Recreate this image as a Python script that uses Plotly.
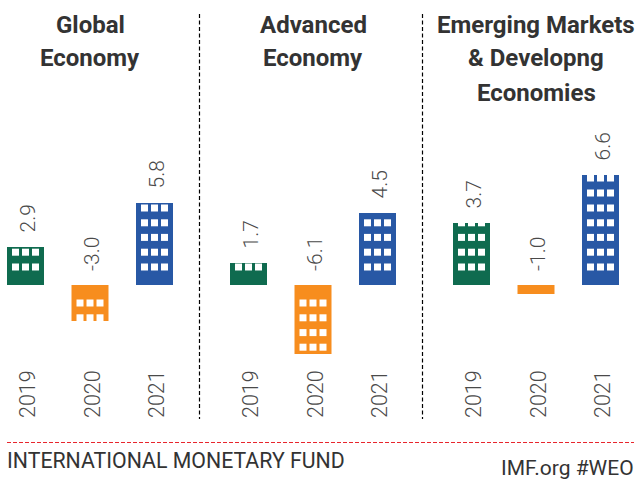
import plotly.graph_objects as go

W, H = 637, 479
years = ["2019", "2020", "2021"]
panel_titles = [
    ["Global", "Economy"],
    ["Advanced", "Economy"],
    ["Emerging Markets", "& Developng", "Economies"],
]
# printed values
global_labels = ["2.9", "-3.0", "5.8"]
advanced_labels = ["1.7", "-6.1", "4.5"]
emerging_labels = ["3.7", "-1.0", "6.6"]
# lengths of the bars as drawn in the picture (not proportional to the printed values)
global_drawn = [38, -36, 82]
advanced_drawn = [22, -69, 72]
emerging_drawn = [62, -9, 110]
bar_colors = ["#0F6B4F", "#F78D1E", "#2858A5"]
footer_left = "INTERNATIONAL MONETARY FUND"
footer_right = "IMF.org #WEO"

labels = [global_labels, advanced_labels, emerging_labels]
drawn = [global_drawn, advanced_drawn, emerging_drawn]

FONT = "Roboto"
INK = "#4a4a4a"
STEP = 64.5
first_center = [25.5, 248.5, 471.5]
panel_px = [(0, 195), (205, 420), (425, 637)]
row_offsets = [18, 32.8, 47.6, 62.2, 77, 92, 107]
WIN = 7

fig = go.Figure()
layout_axes = {}
for i in range(3):
    suffix = "" if i == 0 else str(i + 1)
    xname = "x" + suffix
    left, right = panel_px[i]
    fig.add_trace(go.Bar(
        x=[0, 1, 2], y=drawn[i], width=37 / STEP, marker=dict(color=bar_colors, line_width=0),
        xaxis=xname, yaxis="y", hoverinfo="skip", showlegend=False))
    wx, wb, wh = [], [], []
    for k, d in enumerate(drawn[i]):
        for r in row_offsets:
            lo, hi = r - WIN / 2, r + WIN / 2
            hi = min(hi, abs(d))
            if hi <= lo:
                continue
            for col in (-10, 0, 10):
                wx.append(k + col / STEP)
                if d > 0:
                    wb.append(lo)
                    wh.append(hi - lo)
                else:
                    wb.append(-hi)
                    wh.append(hi - lo)
    fig.add_trace(go.Bar(
        x=wx, y=wh, base=wb, width=WIN / STEP, marker=dict(color="white", line_width=0),
        xaxis=xname, yaxis="y", hoverinfo="skip", showlegend=False))
    layout_axes["xaxis" + suffix] = dict(
        domain=[left / W, right / W],
        range=[(left - first_center[i]) / STEP, (right - first_center[i]) / STEP],
        tickmode="array", tickvals=[0, 1, 2], ticktext=years, tickangle=-90, ticklabelshift=3,
        tickfont=dict(family=FONT, size=21.5, color=INK, weight=300),
        showgrid=False, zeroline=False, showline=False, ticks="", anchor="y", ticklen=0, fixedrange=True)
    for k, d in enumerate(drawn[i]):
        fig.add_annotation(
            x=k, y=max(d, 0), xref=xname, yref="y", text=labels[i][k], textangle=-90,
            showarrow=False, yanchor="bottom", xanchor="center", yshift=12, xshift=2,
            font=dict(family=FONT, size=21, color=INK, weight=300))

title_x = [90, 313, 536]
title_y = [25, 58, 93]
for i, lines in enumerate(panel_titles):
    for j, line in enumerate(lines):
        fig.add_annotation(
            x=title_x[i] / W, y=1 - title_y[j] / H, xref="paper", yref="paper", text=line,
            showarrow=False, xanchor="center", yanchor="middle",
            font=dict(family=FONT, size=24, color="#333333", weight=700))

for px in (199.5, 422.5):
    fig.add_shape(type="line", xref="paper", yref="paper", x0=px / W, x1=px / W,
                  y0=1 - 14 / H, y1=1 - 419 / H,
                  line=dict(color="#000000", width=1.2, dash="4px,2.5px"))
fig.add_shape(type="line", xref="paper", yref="paper", x0=7 / W, x1=634 / W,
              y0=1 - 442.5 / H, y1=1 - 442.5 / H, line=dict(color="#E8262D", width=1.2, dash="4px,2px"))
fig.add_annotation(x=5 / W, y=1 - 460 / H, xref="paper", yref="paper", text=footer_left, showarrow=False,
                   xanchor="left", yanchor="middle", font=dict(family=FONT, size=21.3, color="#333333"))
fig.add_annotation(x=636 / W, y=1 - 468 / H, xref="paper", yref="paper", text=footer_right, showarrow=False,
                   xanchor="right", yanchor="middle", font=dict(family=FONT, size=21, color="#333333"))

fig.update_layout(
    width=W, height=H, margin=dict(l=0, r=0, t=0, b=0), paper_bgcolor="white", plot_bgcolor="white",
    barmode="overlay", showlegend=False,
    yaxis=dict(domain=[1 - 365 / H, 1 - 100 / H], range=[-80, 185], visible=False, fixedrange=True),
    **layout_axes)
fig.write_html("out.html", config={"displayModeBar": False},
               post_script="document.body.style.margin='0';")
